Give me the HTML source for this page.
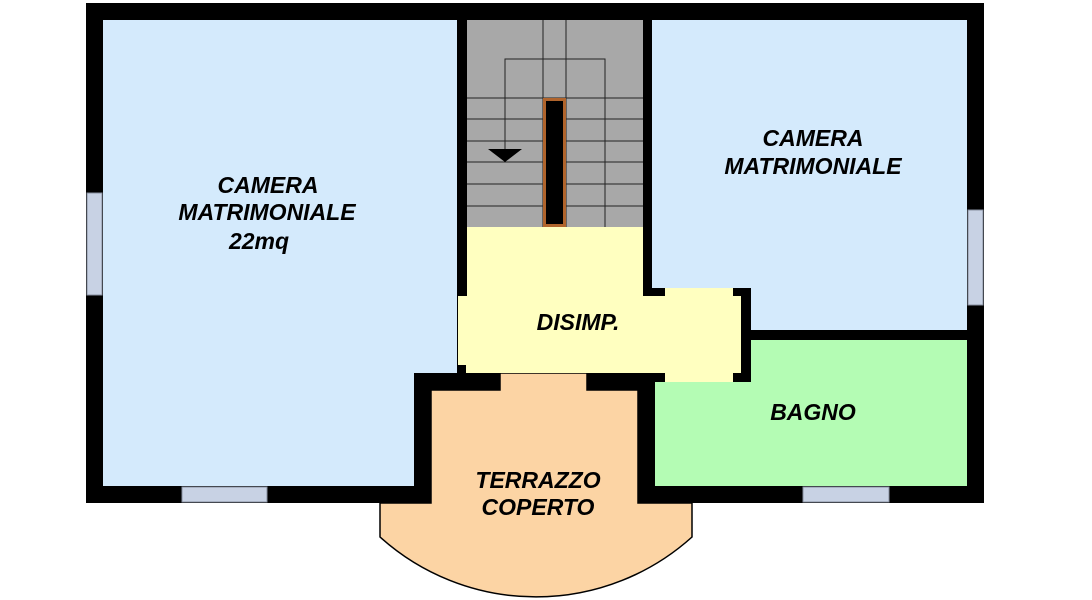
<!DOCTYPE html>
<html><head><meta charset="utf-8"><style>
html,body{margin:0;padding:0;background:#fff;}
svg{display:block}
text{font-family:"Liberation Sans",Arial,sans-serif;font-weight:bold;font-style:italic;font-size:23px;fill:#000;text-anchor:middle}
</style></head><body>
<svg width="1092" height="600" viewBox="0 0 1092 600" xmlns="http://www.w3.org/2000/svg">
<rect x="86" y="3" width="898" height="500" fill="#000"/>
<path d="M431,390 L500,390 L500,373 L587,373 L587,390 L638,390 L638,503 L692,503 L692,537 A233,233 0 0 1 380,537 L380,503 L431,503 Z" fill="#fcd4a4" stroke="#000" stroke-width="1.5"/>
<rect x="414" y="486" width="17" height="17" fill="#000"/>
<rect x="638" y="486" width="17" height="17" fill="#000"/>
<path d="M103,20 L457,20 L457,373 L414,373 L414,486 L103,486 Z" fill="#d4eafc"/>
<rect x="467" y="20" width="176" height="207" fill="#a8a8a8"/>
<g stroke="#222" stroke-width="1" fill="none">
<line x1="543" y1="20" x2="543" y2="227"/>
<line x1="566" y1="20" x2="566" y2="227"/>
<polyline points="505,152 505,59 605,59 605,227"/>
<line x1="467" y1="98" x2="643" y2="98"/>
<line x1="467" y1="119" x2="643" y2="119"/>
<line x1="467" y1="141" x2="643" y2="141"/>
<line x1="467" y1="162" x2="643" y2="162"/>
<line x1="467" y1="184" x2="643" y2="184"/>
<line x1="467" y1="206" x2="643" y2="206"/>
</g>
<rect x="544.5" y="99.5" width="20" height="126" fill="#000" stroke="#b0642c" stroke-width="3"/>
<polygon points="488,149 522,149 505,162" fill="#000"/>
<path d="M467,227 L643,227 L643,296 L665,296 L665,288 L733,288 L733,296 L741,296 L741,373 L733,373 L733,382 L665,382 L665,373 L466,373 L466,365 L458,365 L458,296 L467,296 Z" fill="#ffffc0"/>
<path d="M652,20 L967,20 L967,330 L751,330 L751,288 L652,288 Z" fill="#d4eafc"/>
<path d="M655,382 L751,382 L751,340 L967,340 L967,486 L655,486 Z" fill="#b4fcb4"/>
<g fill="#c8d2e4" stroke="#8890a0" stroke-width="1">
<rect x="87" y="193" width="15" height="102"/>
<rect x="968" y="210" width="15" height="95"/>
<rect x="182" y="487" width="85" height="15"/>
<rect x="803" y="487" width="86" height="15"/>
</g>
<text x="268" y="193">CAMERA</text>
<text x="267" y="220">MATRIMONIALE</text>
<text x="259" y="249">22mq</text>
<text x="813" y="146">CAMERA</text>
<text x="813" y="174">MATRIMONIALE</text>
<text x="578" y="330">DISIMP.</text>
<text x="813" y="420">BAGNO</text>
<text x="538" y="488">TERRAZZO</text>
<text x="538" y="515">COPERTO</text>
</svg>
</body></html>
